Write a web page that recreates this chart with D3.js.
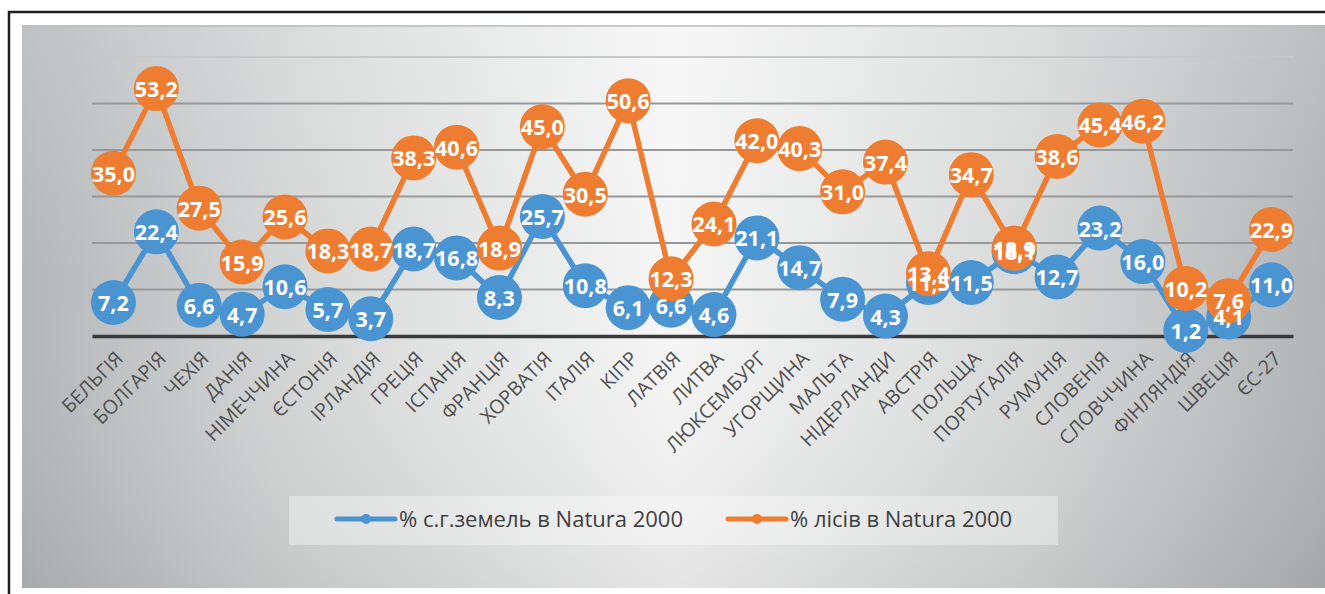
<!DOCTYPE html>
<html>
<head>
<meta charset="utf-8">
<script src="https://cdn.jsdelivr.net/npm/d3@7"></script>
<style>
  body { margin: 0; background: #ffffff; }
  svg { display: block; }
</style>
</head>
<body>
<svg id="chart" width="1325" height="594"></svg>
<script>
// Natura 2000 shares by country
const countries = ["БЕЛЬГІЯ", "БОЛГАРІЯ", "ЧЕХІЯ", "ДАНІЯ", "НІМЕЧЧИНА", "ЄСТОНІЯ", "ІРЛАНДІЯ",
  "ГРЕЦІЯ", "ІСПАНІЯ", "ФРАНЦІЯ", "ХОРВАТІЯ", "ІТАЛІЯ", "КІПР", "ЛАТВІЯ", "ЛИТВА", "ЛЮКСЕМБУРГ",
  "УГОРЩИНА", "МАЛЬТА", "НІДЕРЛАНДИ", "АВСТРІЯ", "ПОЛЬЩА", "ПОРТУГАЛІЯ", "РУМУНІЯ", "СЛОВЕНІЯ",
  "СЛОВЧЧИНА", "ФІНЛЯНДІЯ", "ШВЕЦІЯ", "ЄС-27"];
const farmland = [7.2, 22.4, 6.6, 4.7, 10.6, 5.7, 3.7, 18.7, 16.8, 8.3, 25.7, 10.8, 6.1, 6.6, 4.6, 21.1,
  14.7, 7.9, 4.3, 11.5, 11.5, 18.1, 12.7, 23.2, 16.0, 1.2, 4.1, 11.0];
const forests = [35.0, 53.2, 27.5, 15.9, 25.6, 18.3, 18.7, 38.3, 40.6, 18.9, 45.0, 30.5, 50.6, 12.3, 24.1, 42.0,
  40.3, 31.0, 37.4, 13.4, 34.7, 18.9, 38.6, 45.4, 46.2, 10.2, 7.6, 22.9];
const seriesNames = ["% с.г.земель в Natura 2000", "% лісів в Natura 2000"];
const yTicks = [0, 10, 20, 30, 40, 50, 60];

const svg = d3.select("#chart");
const blue = "#4b94d2";
const orange = "#ee7d31";

const defs = svg.append("defs");

// grey at the sides, near white in the middle
defs.append("linearGradient")
  .attr("id", "panelGrad")
  .attr("x1", "0%").attr("y1", "0%")
  .attr("x2", "100%").attr("y2", "0%")
  .selectAll("stop")
  .data([
    { offset: "0%", color: "#b4b7b9" },
    { offset: "22%", color: "#d6d8d8" },
    { offset: "50%", color: "#f6f6f6" },
    { offset: "78%", color: "#d6d8d8" },
    { offset: "100%", color: "#b1b4b6" }
  ])
  .enter()
  .append("stop")
  .attr("offset", d => d.offset)
  .attr("stop-color", d => d.color);

// slight darkening toward the bottom
defs.append("linearGradient")
  .attr("id", "shadeGrad")
  .attr("x1", "0%").attr("y1", "0%")
  .attr("x2", "0%").attr("y2", "100%")
  .selectAll("stop")
  .data([
    { offset: "0%", color: "#ffffff", op: 0.15 },
    { offset: "45%", color: "#ffffff", op: 0 },
    { offset: "100%", color: "#000000", op: 0.07 }
  ])
  .enter()
  .append("stop")
  .attr("offset", d => d.offset)
  .attr("stop-color", d => d.color)
  .attr("stop-opacity", d => d.op);

// outer frame
svg.append("path")
  .attr("d", "M9,600 V12 H1330")
  .attr("fill", "none")
  .attr("stroke", "#1e1e1e")
  .attr("stroke-width", 2.5);

svg.append("rect")
  .attr("x", 22)
  .attr("y", 25)
  .attr("width", 1303)
  .attr("height", 563)
  .attr("fill", "url(#panelGrad)");
svg.append("rect")
  .attr("x", 22)
  .attr("y", 25)
  .attr("width", 1303)
  .attr("height", 563)
  .attr("fill", "url(#shadeGrad)");
svg.append("line")
  .attr("x1", 22).attr("x2", 1325)
  .attr("y1", 26).attr("y2", 26)
  .attr("stroke", "#b9bcbd")
  .attr("stroke-width", 1.5);

const x = d3.scaleBand().domain(countries).range([92, 1293]);
const y = d3.scaleLinear().domain([0, 60]).range([336, 57]);
const cx = d => x(d) + x.bandwidth() / 2;

// gridlines
svg.append("g")
  .selectAll("line")
  .data(yTicks.filter(t => t > 0))
  .enter()
  .append("line")
  .attr("x1", 92)
  .attr("x2", 1293)
  .attr("y1", d => y(d))
  .attr("y2", d => y(d))
  .attr("stroke", d => d === 60 ? "#c6c8c9" : "#96989a")
  .attr("stroke-width", 2);

// category axis
const xAxis = svg.append("g")
  .attr("transform", `translate(0,${y(0)})`)
  .call(d3.axisBottom(x).tickSize(0).tickPadding(0));
xAxis.select(".domain")
  .attr("stroke", "#3a3a3a")
  .attr("stroke-width", 3.5);
xAxis.selectAll("text")
  .attr("font-family", "'Open Sans', sans-serif")
  .attr("font-size", "19.5px")
  .attr("fill", "#505050")
  .attr("text-anchor", "end")
  .attr("y", 0)
  .attr("dy", "0.35em")
  .attr("transform", "translate(6,19) rotate(-45)");

const fmt = d3.formatLocale({ decimal: ",", thousands: " ", grouping: [3], currency: ["", ""] }).format(".1f");

const series = [
  { name: seriesNames[0], values: farmland, color: blue },
  { name: seriesNames[1], values: forests, color: orange }
];

const line = d3.line()
  .x(d => cx(d.c))
  .y(d => y(d.v));

series.forEach(s => {
  const pts = countries.map((c, i) => ({ c, v: s.values[i] }));
  svg.append("path")
    .datum(pts)
    .attr("d", line)
    .attr("fill", "none")
    .attr("stroke", s.color)
    .attr("stroke-width", 5.5)
    .attr("stroke-linejoin", "round");
  svg.append("g")
    .selectAll("circle")
    .data(pts)
    .enter()
    .append("circle")
    .attr("cx", d => cx(d.c))
    .attr("cy", d => y(d.v))
    .attr("r", 22.5)
    .attr("fill", s.color);
});

// labels go on top of all markers
series.forEach(s => {
  svg.append("g")
    .selectAll("text")
    .data(countries.map((c, i) => ({ c, v: s.values[i] })))
    .enter()
    .append("text")
    .attr("x", d => cx(d.c))
    .attr("y", d => y(d.v))
    .attr("text-anchor", "middle")
    .attr("dominant-baseline", "central")
    .attr("font-family", "'Open Sans', sans-serif")
    .attr("font-weight", "bold")
    .attr("font-size", "21.5px")
    .attr("fill", "#ffffff")
    .text(d => fmt(d.v));
});

// legend
const legend = svg.append("g");
legend.append("rect")
  .attr("x", 289)
  .attr("y", 496)
  .attr("width", 769)
  .attr("height", 49)
  .attr("fill", "#ffffff")
  .attr("fill-opacity", 0.35);

const legendX = [337, 728];
series.forEach((s, i) => {
  const g = legend.append("g").attr("transform", `translate(${legendX[i]},519)`);
  g.append("line")
    .attr("x1", 0)
    .attr("x2", 58)
    .attr("stroke", s.color)
    .attr("stroke-width", 5)
    .attr("stroke-linecap", "round");
  g.append("circle")
    .attr("cx", 29)
    .attr("r", 5)
    .attr("fill", s.color);
  g.append("text")
    .attr("x", 62)
    .attr("dy", "0.35em")
    .attr("font-family", "'Open Sans', sans-serif")
    .attr("font-size", "22px")
    .attr("fill", "#404040")
    .text(s.name);
});
</script>
</body>
</html>
